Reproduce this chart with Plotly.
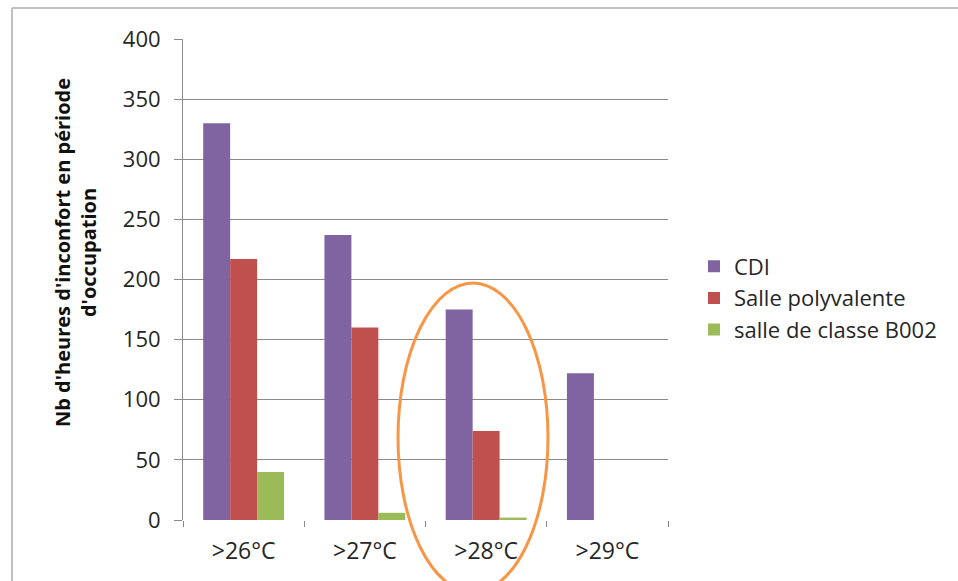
import plotly.graph_objects as go

# Discomfort hours during occupancy, by temperature threshold
categories = [">26°C", ">27°C", ">28°C", ">29°C"]
cdi = [330, 237, 175, 122]
salle_polyvalente = [217, 160, 74, 0]
salle_b002 = [40, 6, 2, 0]

series_names = ["CDI", "Salle polyvalente", "salle de classe B002"]
series_values = [cdi, salle_polyvalente, salle_b002]
series_colors = ["#8064A2", "#C0504D", "#9BBB59"]

y_ticks = [0, 50, 100, 150, 200, 250, 300, 350, 400]

W, H = 958, 581
ML, MR, MT, MB = 183, 290, 39, 61
PW, PH = W - ML - MR, H - MT - MB

def px_x(p):
    return (p - ML) / PW

def px_y(p):
    return (H - MB - p) / PH

FONT = "'Open Sans', Lato, sans-serif"
TXT = "#262626"

fig = go.Figure()
for i, (name, vals, col) in enumerate(zip(series_names, series_values, series_colors)):
    fig.add_trace(go.Bar(
        x=categories, y=vals, name=name,
        marker=dict(color=col, line=dict(width=0)),
        legendgroup=f"s{i}",
    ))

fig.update_layout(
    width=W, height=H,
    margin=dict(l=ML, r=MR, t=MT, b=MB, pad=0),
    paper_bgcolor="white", plot_bgcolor="white",
    barmode="group", bargap=0.333, bargroupgap=0,
    font=dict(family=FONT, color=TXT),
    showlegend=True,
    legend=dict(
        x=px_x(694), y=px_y(298), xanchor="left", yanchor="middle",
        font=dict(size=22, color=TXT),
        itemwidth=30, tracegroupgap=0,
        bgcolor="rgba(0,0,0,0)",
    ),
    xaxis=dict(
        type="category", showgrid=False, zeroline=False,
        showline=False, tickson="boundaries",
        ticks="outside", ticklen=6, tickcolor="#8a8a8a",
        ticklabelstandoff=15,
        tickfont=dict(size=23, color=TXT),
    ),
    yaxis=dict(
        range=[0, 400], tickvals=y_ticks,
        showgrid=True, gridcolor="#8a8a8a", gridwidth=1,
        showline=True, linecolor="#8a8a8a", linewidth=1,
        zeroline=False,
        ticks="outside", ticklen=8, tickcolor="#8a8a8a",
        ticklabelstandoff=9,
        tickfont=dict(size=22, color=TXT),
    ),
)

# Y-axis title, two centred lines
fig.add_annotation(
    xref="paper", yref="paper", x=px_x(75), y=px_y(253),
    text="<b>Nb d'heures d'inconfort en période<br>d'occupation</b>",
    showarrow=False, textangle=-90, xanchor="center", yanchor="middle",
    font=dict(size=20, color="#111111", family=FONT),
)

# Chart frame (top and left edges)
fig.add_shape(type="line", xref="paper", yref="paper",
              x0=px_x(12), x1=px_x(958), y0=px_y(8), y1=px_y(8),
              line=dict(color="#c0c0c0", width=2), layer="below")
fig.add_shape(type="line", xref="paper", yref="paper",
              x0=px_x(12), x1=px_x(12), y0=px_y(8), y1=px_y(581),
              line=dict(color="#c0c0c0", width=2), layer="below")

# Orange highlight around the >28°C group
fig.add_shape(type="circle", xref="paper", yref="paper",
              x0=px_x(398), x1=px_x(548), y0=px_y(283), y1=px_y(592),
              line=dict(color="#F79646", width=3), fillcolor="rgba(0,0,0,0)")

fig.write_html("out.html")
